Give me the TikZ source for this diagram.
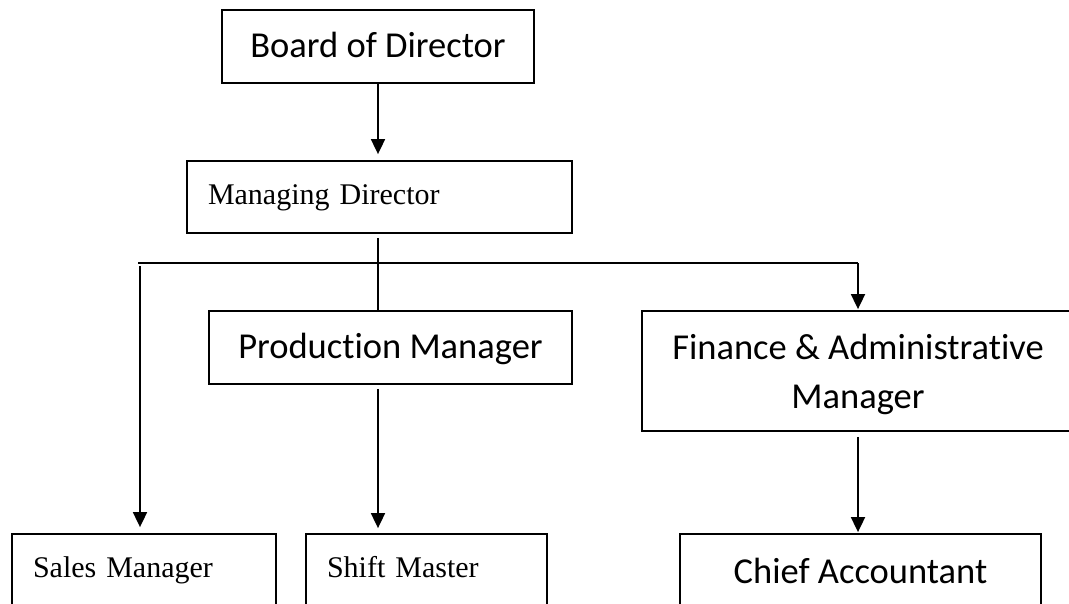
\documentclass[tikz,border=0pt]{standalone}
\usepackage{fontspec}
\setmainfont{Liberation Serif}
\newfontfamily\calib[Ligatures=NoCommon]{Carlito}
\usetikzlibrary{arrows.meta}
\begin{document}
\begin{tikzpicture}[x=1pt,y=-1pt,
  box/.style={draw, line width=1.8pt, rectangle, inner sep=0pt},
  sanslbl/.style={font=\calib\fontsize{36.5}{49}\selectfont, align=center, text height=26pt, text depth=4pt},
  seriflbl/.style={font=\fontsize{30}{36}\selectfont, align=left, text height=21pt, text depth=6.5pt},
  conn/.style={line width=1.8pt},
  arr/.style={conn, -{Triangle[width=14pt,length=15pt]}}]
\useasboundingbox (0,0) rectangle (1069,603);
\fill[white] (0,0) rectangle (1069,603);
\clip (0,0) rectangle (1069,603);

\node[box, sanslbl, minimum width=312pt, minimum height=73pt] (bod) at (378,46.5) {Board of Director};
\node[box, seriflbl, minimum height=72pt, inner xsep=21pt, text width=343pt] (md) at (379.5,197) {Managing Director};
\node[box, sanslbl, minimum width=363pt, minimum height=73pt] (pm) at (390.5,347.5) {Production Manager};
\node[box, sanslbl, minimum width=432pt, minimum height=120pt, text height=, text depth=] (fam) at (858,371) {\rule{0pt}{32pt}Finance \& Administrative\\Manager};
\node[box, seriflbl, minimum height=72pt, inner xsep=21pt, text width=222pt] (sales) at (144,570) {Sales Manager};
\node[box, seriflbl, minimum height=72pt, inner xsep=21pt, text width=199pt] (shift) at (426.5,570) {Shift Master};
\node[box, sanslbl, minimum width=361pt, minimum height=72pt, text depth=0pt] (ca) at (860.5,570) {Chief Accountant};

\coordinate (j) at (378,263);
\coordinate (hl) at (138,263);
\coordinate (hr) at (858,263);
\coordinate (sl) at (140,263);

\draw[arr, shorten >=6pt] (bod.south) -- (bod.south |- md.north);
\draw[conn, shorten <=4pt] (md.south -| j) -- (pm.north -| j);
\draw[conn] (hl) -- (hr);
\draw[arr, shorten >=1pt] (hr) -- (fam.north);
\draw[arr, shorten <=3pt, shorten >=6pt] (sl) -- (sales.north -| sl);
\draw[arr, shorten <=4pt, shorten >=5pt] (pm.south -| j) -- (shift.north -| j);
\draw[arr, shorten <=5pt, shorten >=1pt] (fam.south) -- (ca.north -| fam.south);
\end{tikzpicture}
\end{document}
